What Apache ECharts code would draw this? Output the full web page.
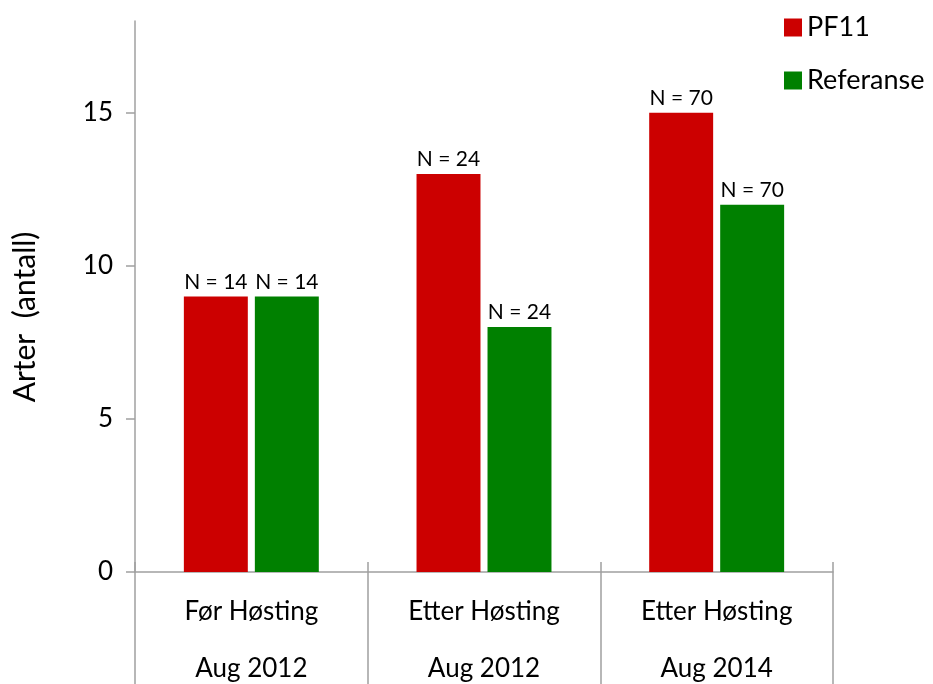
<!DOCTYPE html>
<html>
<head>
<meta charset="utf-8">
<script src="https://cdn.jsdelivr.net/npm/echarts@6/dist/echarts.min.js"></script>
<style>
html,body{margin:0;padding:0;background:#fff;}
#chart{width:933px;height:684px;}
</style>
</head>
<body>
<div id="chart"></div>
<script>
// Species counts per sampling round
const periods = ['Før Høsting', 'Etter Høsting', 'Etter Høsting'];
const dates = ['Aug 2012', 'Aug 2012', 'Aug 2014'];
const pf11 = [9, 13, 15];
const referanse = [9, 8, 12];
const pf11N = ['N = 14', 'N = 24', 'N = 70'];
const referanseN = ['N = 14', 'N = 24', 'N = 70'];
const yTicks = [0, 5, 10, 15];
const yTitle = 'Arter  (antall)';

const FONT = 'Lato, "Open Sans", sans-serif';
const AXIS_GREY = '#a0a0a0';

const chart = echarts.init(document.getElementById('chart'));

function labelFor(texts) {
  return {
    show: true,
    position: 'top',
    distance: 4,
    fontFamily: FONT,
    fontSize: 21,
    color: '#000',
    formatter: p => texts[p.dataIndex]
  };
}

chart.setOption({
  animation: false,
  textStyle: { fontFamily: FONT },
  grid: { left: 135, right: 100, top: 21, bottom: 112 },
  legend: {
    orient: 'vertical',
    left: 784,
    top: 14,
    padding: 0,
    itemWidth: 18,
    itemHeight: 18,
    itemGap: 26,
    itemTextGap: 8,
    icon: 'rect',
    textStyle: { fontFamily: FONT, fontSize: 27, color: '#000' },
    data: ['PF11', 'Referanse']
  },
  // rotated axis title, placed beside the value axis
  graphic: [{
    type: 'text',
    x: 25,
    y: 317,
    rotation: Math.PI / 2,
    style: {
      text: yTitle,
      fontFamily: FONT,
      fontSize: 30,
      fill: '#000',
      align: 'center',
      verticalAlign: 'middle'
    }
  }],
  xAxis: [
    {
      type: 'category',
      data: periods,
      position: 'bottom',
      axisLine: { lineStyle: { color: AXIS_GREY, width: 1.5 } },
      axisTick: { show: true, inside: true, length: 10, interval: 0, lineStyle: { color: AXIS_GREY, width: 1.5 } },
      axisLabel: { interval: 0, margin: 27, fontFamily: FONT, fontSize: 26, color: '#000' }
    },
    {
      type: 'category',
      data: dates,
      position: 'bottom',
      offset: 0,
      axisLine: { show: false },
      axisTick: { show: true, inside: false, length: 112, interval: 0, lineStyle: { color: AXIS_GREY, width: 1.5 } },
      axisLabel: { interval: 0, margin: 84, fontFamily: FONT, fontSize: 26, color: '#000' }
    }
  ],
  yAxis: {
    type: 'value',
    min: 0,
    max: 18,
    interval: 5,
    axisLine: { show: true, lineStyle: { color: AXIS_GREY, width: 1.5 } },
    axisTick: { show: true, length: 9, lineStyle: { color: AXIS_GREY, width: 1.5 } },
    splitLine: { show: false },
    axisLabel: {
      margin: 22,
      fontFamily: FONT,
      fontSize: 26,
      color: '#000',
      showMaxLabel: false,
      formatter: v => (yTicks.includes(v) ? String(v) : '')
    }
  },
  series: [
    {
      name: 'PF11',
      type: 'bar',
      data: pf11,
      barGap: '11%',
      barCategoryGap: '42%',
      itemStyle: { color: '#cc0000' },
      label: labelFor(pf11N)
    },
    {
      name: 'Referanse',
      type: 'bar',
      data: referanse,
      itemStyle: { color: '#008000' },
      label: labelFor(referanseN)
    }
  ]
});
</script>
</body>
</html>
